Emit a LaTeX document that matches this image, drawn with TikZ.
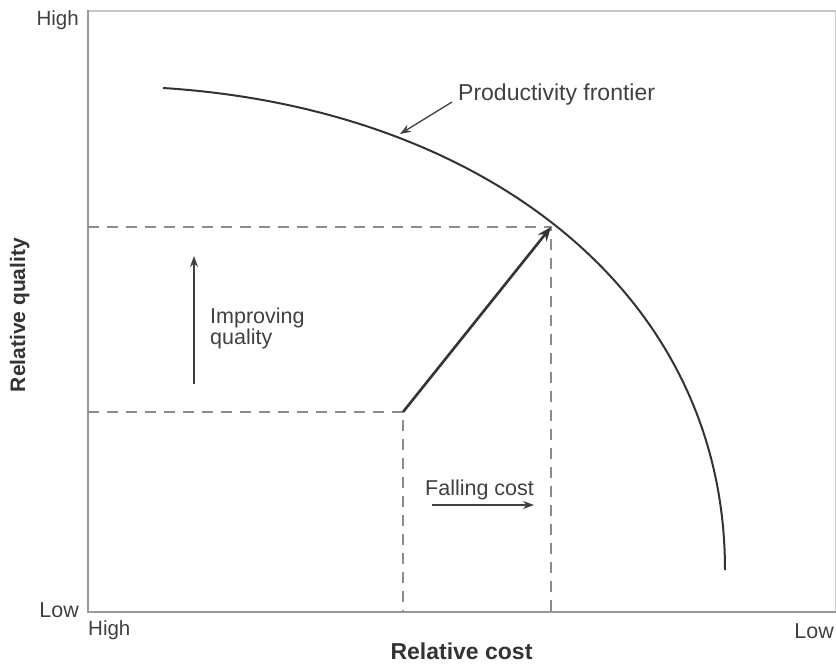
\documentclass[tikz,border=0pt]{standalone}
\usepackage{fontspec}
\setmainfont{Liberation Sans}
\usetikzlibrary{arrows.meta}
\begin{document}
\begin{tikzpicture}[x=1pt,y=-1pt,
  axisline/.style={draw=black!40,line width=2pt},
  frameline/.style={draw=black!22,line width=1.4pt},
  guide/.style={draw=black!45,line width=1.5pt,dash pattern=on 11pt off 8pt},
  frontier/.style={draw=black!80,line width=2pt},
  move/.style={draw=black!80,line width=2.6pt,-{Stealth[length=14pt,width=11pt]}},
  hint/.style={draw=black!75,line width=1.3pt,-{Stealth[length=11pt,width=8pt]}},
  lbl/.style={font=\fontsize{21.5}{19.5}\selectfont,text=black!75,inner sep=0pt},
  axlbl/.style={font=\bfseries\fontsize{23}{26}\selectfont,text=black!80,inner sep=0pt}]
\useasboundingbox (0,0) rectangle (836,664);
% frame and axes
\coordinate (tl) at (88,10);
\coordinate (o) at (88,612);
\coordinate (br) at (836,612);
\coordinate (tr) at (836,11);
\draw[frameline] (88,11) -- (tr) -- (br);
\draw[axisline] (tl) -- (o) -- (br);
% axis end labels
\node[lbl,font=\fontsize{20.5}{22}\selectfont,anchor=base east] (qhigh) at (79,25) {High};
\node[lbl,anchor=base east] (qlow) at (79,617) {Low};
\node[lbl,font=\fontsize{20.5}{22}\selectfont,anchor=base west] (chigh) at (88,635) {High};
\node[lbl,anchor=base east] (clow) at (834,638) {Low};
\node[axlbl,anchor=base] (xlab) at (461.5,659) {Relative cost};
\node[axlbl,font=\bfseries\fontsize{21}{24}\selectfont,rotate=90,anchor=base] (ylab) at (25,315) {Relative quality};
% productivity frontier
\coordinate (fs) at (163,88);
\coordinate (fe) at (725,570);
\draw[frontier] (fs) .. controls (480,108) and (725,290) .. (fe);
% positions before and after
\coordinate (p0) at (403,412);
\coordinate (p1) at (551,227);
\draw[guide] (88,412) -- (p0) -- (403,612);
\draw[guide] (88,227) -- (p1) -- (551,612);
\draw[move] (p0) -- (p1);
% annotations
\node[lbl,font=\fontsize{23}{26}\selectfont,anchor=base west] (pf) at (458,100) {Productivity frontier};
\coordinate (pfa) at (400,134);
\draw[hint] (452,102) -- (pfa);
\coordinate (iq0) at (194,384);
\coordinate (iq1) at (194,256);
\draw[hint] (iq0) -- (iq1);
\node[lbl,anchor=north west,align=left] (iq) at (210,307.5) {\lineskiplimit=-20pt Improving\\quality};
\node[lbl,anchor=base west] (fc) at (425,495) {Falling cost};
\coordinate (fc0) at (432,505);
\coordinate (fc1) at (534,505);
\draw[hint] (fc0) -- (fc1);
\end{tikzpicture}
\end{document}
